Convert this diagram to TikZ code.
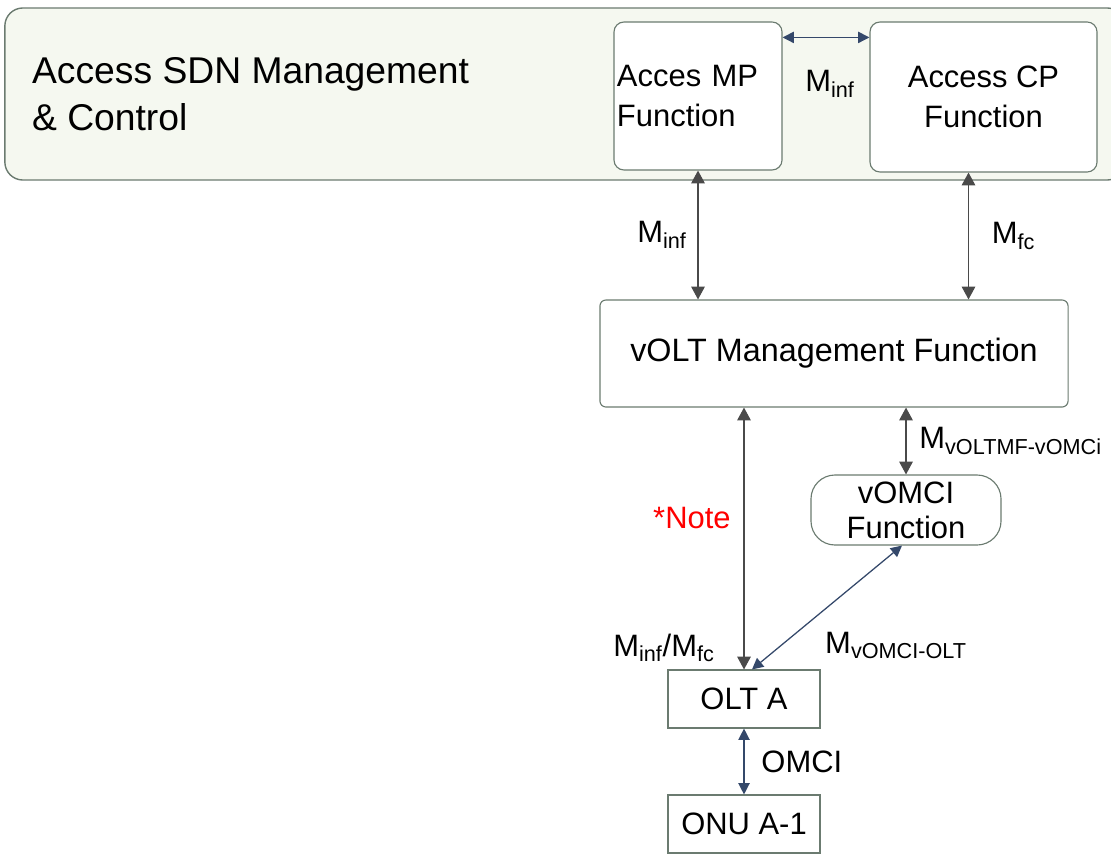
\documentclass[tikz,border=0pt]{standalone}
\usepackage{fontspec}
\setmainfont{Liberation Sans}
\usetikzlibrary{arrows.meta}

\definecolor{sdnfill}{HTML}{F5F8F0}
\definecolor{boxline}{HTML}{6B7B70}
\definecolor{darkline}{HTML}{4A4A4A}
\definecolor{navyline}{HTML}{34486A}

\begin{document}
\begin{tikzpicture}[
x = 0.025cm, y = -0.025cm,
every node/.style = {font=\fontsize{22}{28}\selectfont, inner sep=2pt},
sdnbox/.style = {draw=boxline, line width=1pt, fill=sdnfill, rounded corners=0.45cm},
fbox/.style = {draw=boxline, line width=0.8pt, fill=white, rounded corners=0.25cm, align=center},
plainbox/.style = {draw=boxline, line width=0.8pt, fill=white},
link/.style = {{Triangle[length=0.32cm, width=0.34cm]}-{Triangle[length=0.32cm, width=0.34cm]}, draw=darkline, line width=0.8pt},
navylink/.style = {{Triangle[length=0.28cm, width=0.28cm]}-{Triangle[length=0.28cm, width=0.28cm]}, draw=navyline, line width=0.9pt}
]
\useasboundingbox (0,0) rectangle (1111,854);

\node[sdnbox, minimum width=28cm, minimum height=4.3cm] (sdn) at (565,94) {};
\node[anchor=west, align=left, font=\fontsize{26.5}{33}\selectfont] (sdntext) at (29,94) {Access SDN Management\\\& Control};

\node[fbox, minimum width=4.2cm, minimum height=3.7cm, text width=4.05cm, align=left] (mp) at (698,96) {Acces MP\\Function};
\node[fbox, minimum width=5.675cm, minimum height=3.75cm] (cp) at (983.5,97) {Access CP\\Function};
\node[fbox, rounded corners=0.15cm, minimum width=11.7cm, minimum height=2.675cm, font=\fontsize{23}{28}\selectfont] (volt) at (834,353.5) {vOLT Management Function};
\node[fbox, rounded corners=0.6cm, minimum width=4.75cm, minimum height=1.75cm, font=\fontsize{22}{25}\selectfont] (vomci) at (906,510) {vOMCI\\Function};
\node[plainbox, minimum width=3.8cm, minimum height=1.45cm] (olt) at (744,699) {OLT A};
\node[plainbox, minimum width=3.8cm, minimum height=1.45cm] (onu) at (744,824) {ONU A-1};

\coordinate (mpcp) at ([yshift=-0.4cm]mp.north east);
\coordinate (cpfoot) at ([xshift=-0.375cm]cp.south);

\draw[navylink] (mpcp) -- (mpcp -| cp.west);
\node (mtop) at (830,84) {M\textsubscript{inf}};

\draw[link] (mp.south) -- (mp.south |- volt.north) node[midway, left=0.2cm] (minf) {M\textsubscript{inf}};
\draw[link] (cpfoot) -- (cpfoot |- volt.north) node[midway, right=0.5cm] (mfc) {M\textsubscript{fc}};
\draw[link] (vomci.north |- volt.south) -- (vomci.north) node[midway, right=0.25cm] (mvoltmf) {M\textsubscript{vOLTMF-vOMCi}};
\draw[link] (olt.north |- volt.south) -- (olt.north) node[pos=0.42, left=0.25cm, text=red] (note) {*Note};
\draw[navylink] ([xshift=0.2cm]olt.north) -- ([xshift=-0.1cm]vomci.south);
\draw[navylink] (olt.south) -- (onu.north) node[midway, right=0.35cm] (omci) {OMCI};

\node (minfmfc) at (664,648) {M\textsubscript{inf}/M\textsubscript{fc}};
\node (mvomciolt) at (896,645) {M\textsubscript{vOMCI-OLT}};
\end{tikzpicture}
\end{document}
